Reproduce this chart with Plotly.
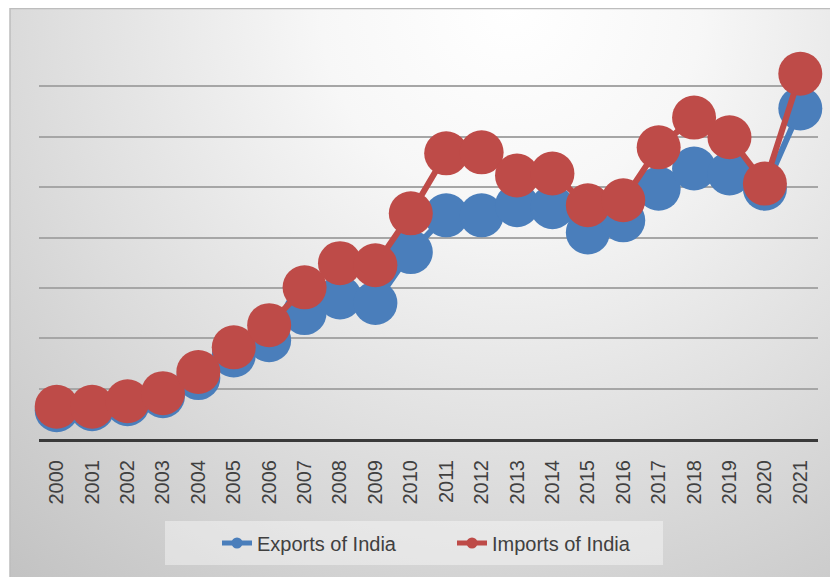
import base64
import plotly.graph_objects as go

# ---- data (US$ billion) ----
years = [str(y) for y in range(2000, 2022)]
exports_of_india = [57, 59, 69, 85, 121, 166, 196, 250, 281, 270, 371, 444,
                    444, 464, 460, 410, 434, 497, 537, 527, 497, 656]
imports_of_india = [64, 64, 75, 91, 133, 182, 226, 301, 349, 345, 448, 567,
                    569, 523, 527, 464, 474, 579, 638, 599, 507, 725]

BLUE = "#4A7EBB"
RED = "#BE4B48"
TEXT = "#404040"
FONT = "Liberation Sans"

# page body has an 8px margin: figure pixel = reference pixel - 8
OFF = 8
W, H = 838 - OFF, 577 - OFF
L, R, T, B = 39 - OFF, 838 - 818, 36 - OFF, 577 - 439


def pxx(x):
    return (x - OFF - L) / (W - L - R)


def pxy(y):
    return (H - B - (y - OFF)) / (H - T - B)


svg = (
    "<svg xmlns='http://www.w3.org/2000/svg' width='825' height='570' "
    "preserveAspectRatio='none' viewBox='0 0 825 570'>"
    "<defs><radialGradient id='g' gradientUnits='userSpaceOnUse' cx='500' cy='0' r='760'>"
    "<stop offset='0' stop-color='#ffffff'/>"
    "<stop offset='0.25' stop-color='#f7f7f7'/>"
    "<stop offset='1' stop-color='#c2c2c2'/>"
    "</radialGradient></defs>"
    "<rect width='825' height='570' fill='url(#g)'/></svg>"
)
bg_src = "data:image/svg+xml;base64," + base64.b64encode(svg.encode()).decode()

fig = go.Figure()
fig.add_trace(go.Scatter(
    x=years, y=exports_of_india, mode="lines+markers", name="Exports of India",
    line=dict(color=BLUE, width=6), marker=dict(size=44, color=BLUE),
    showlegend=False, cliponaxis=False, hoverinfo="x+y+name"))
fig.add_trace(go.Scatter(
    x=years, y=imports_of_india, mode="lines+markers", name="Imports of India",
    line=dict(color=RED, width=6), marker=dict(size=44, color=RED),
    showlegend=False, cliponaxis=False, hoverinfo="x+y+name"))
# legend entries (small symbols like the original)
fig.add_trace(go.Scatter(
    x=[None], y=[None], mode="lines+markers", name="Exports of India",
    line=dict(color=BLUE, width=5), marker=dict(size=11, color=BLUE)))
fig.add_trace(go.Scatter(
    x=[None], y=[None], mode="lines+markers", name="Imports of India",
    line=dict(color=RED, width=5), marker=dict(size=11, color=RED)))

fig.update_layout(
    width=W, height=H,
    margin=dict(l=L, r=R, t=T, b=B, pad=0),
    paper_bgcolor="white",
    plot_bgcolor="rgba(0,0,0,0)",
    font=dict(family=FONT, size=20, color=TEXT),
    images=[dict(
        source=bg_src, xref="paper", yref="paper",
        x=pxx(10), y=pxy(8), sizex=pxx(836) - pxx(10), sizey=pxy(8) - pxy(580),
        xanchor="left", yanchor="top", sizing="stretch", layer="below")],
    shapes=[
        dict(type="rect", xref="paper", yref="paper",
             x0=pxx(10), x1=pxx(836), y0=pxy(580), y1=pxy(8.5),
             line=dict(color="#bdbdbd", width=1.5), fillcolor="rgba(0,0,0,0)",
             layer="below"),
        dict(type="rect", xref="paper", yref="paper",
             x0=pxx(165), x1=pxx(663), y0=pxy(565), y1=pxy(521),
             line=dict(width=0), fillcolor="rgba(255,255,255,0.4)", layer="below"),
    ],
    legend=dict(
        orientation="h", x=pxx(217), xanchor="left", y=pxy(543), yanchor="middle",
        bgcolor="rgba(0,0,0,0)", font=dict(family=FONT, size=20, color=TEXT),
        entrywidthmode="pixels", entrywidth=190, itemclick=False,
    ),
    xaxis=dict(
        type="category", range=[-0.5, 21.5], tickangle=-90,
        showgrid=False, zeroline=False, showline=True,
        linecolor="#3a3a3a", linewidth=3, ticks="",
        ticklabelstandoff=10,
        tickfont=dict(family=FONT, size=20, color=TEXT), fixedrange=True,
    ),
    yaxis=dict(
        range=[0, 800], dtick=100, tick0=0, showgrid=True,
        gridcolor="#a6a6a6", gridwidth=1.5, zeroline=False,
        showline=False, showticklabels=False, ticks="", fixedrange=True,
    ),
)

fig.write_html("out.html")
